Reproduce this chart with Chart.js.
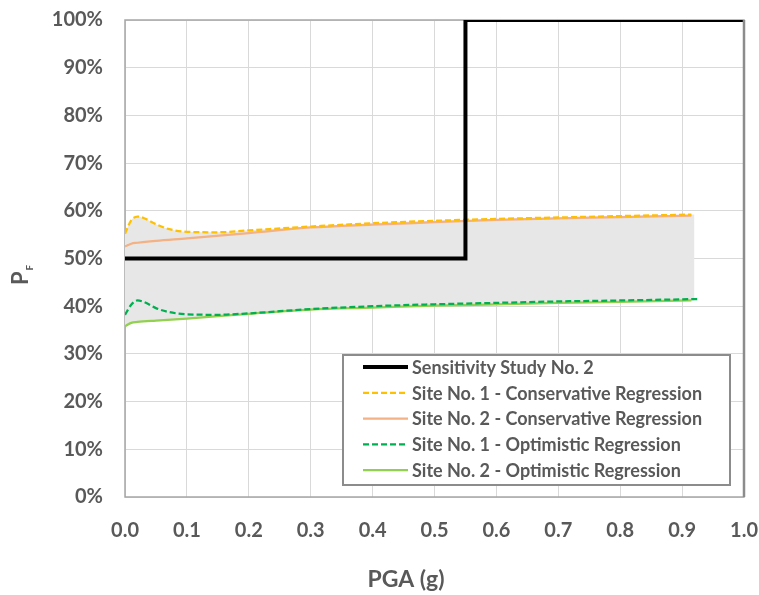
<!DOCTYPE html>
<html>
<head>
<meta charset="utf-8">
<script src="https://cdn.jsdelivr.net/npm/chart.js@4.4.1/dist/chart.umd.min.js"></script>
<style>
  html, body { margin: 0; padding: 0; background: #fff; }
  #wrap { width: 759px; height: 595px; }
</style>
</head>
<body>
<div id="wrap"><canvas id="chart" width="759" height="595"></canvas></div>
<script>
// --- data ---
const xTicks = [0, 0.1, 0.2, 0.3, 0.4, 0.5, 0.6, 0.7, 0.8, 0.9, 1.0];
const yTicks = [0, 0.1, 0.2, 0.3, 0.4, 0.5, 0.6, 0.7, 0.8, 0.9, 1.0];

const sensX = [0, 0.55, 0.55, 1.0];
const sensY = [0.5, 0.5, 1.0, 1.0];

const site1ConsX = [0, 0.01, 0.02, 0.03, 0.05, 0.07, 0.1, 0.15, 0.2, 0.3, 0.4, 0.5, 0.6, 0.7, 0.8, 0.915];
const site1ConsY = [0.552, 0.580, 0.588, 0.585, 0.572, 0.562, 0.556, 0.555, 0.559, 0.567, 0.574, 0.579, 0.583, 0.586, 0.589, 0.592];

const site2ConsX = [0, 0.01, 0.02, 0.05, 0.1, 0.2, 0.3, 0.4, 0.5, 0.6, 0.7, 0.8, 0.915];
const site2ConsY = [0.525, 0.531, 0.533, 0.537, 0.542, 0.553, 0.565, 0.571, 0.576, 0.581, 0.584, 0.587, 0.590];

const site1OptX = [0, 0.01, 0.02, 0.03, 0.05, 0.07, 0.1, 0.15, 0.2, 0.3, 0.4, 0.5, 0.6, 0.7, 0.8, 0.925];
const site1OptY = [0.382, 0.403, 0.412, 0.409, 0.396, 0.388, 0.383, 0.382, 0.385, 0.394, 0.400, 0.404, 0.407, 0.410, 0.412, 0.415];

const site2OptX = [0, 0.01, 0.02, 0.05, 0.1, 0.2, 0.3, 0.4, 0.5, 0.6, 0.7, 0.8, 0.915];
const site2OptY = [0.358, 0.365, 0.367, 0.370, 0.374, 0.384, 0.393, 0.397, 0.401, 0.404, 0.407, 0.409, 0.412];

// grey envelope between the curves
const bandX = [0, 0.01, 0.02, 0.03, 0.05, 0.07, 0.1, 0.15, 0.2, 0.3, 0.4, 0.5, 0.6, 0.7, 0.8, 0.92];
const bandUpper = [0.552, 0.580, 0.588, 0.585, 0.572, 0.562, 0.556, 0.555, 0.559, 0.567, 0.574, 0.579, 0.583, 0.586, 0.589, 0.592];
const bandLower = [0.358, 0.365, 0.367, 0.368, 0.370, 0.372, 0.374, 0.379, 0.384, 0.393, 0.397, 0.401, 0.404, 0.407, 0.409, 0.412];

const labels = [
    'Sensitivity Study No. 2',
    'Site No. 1 - Conservative Regression',
    'Site No. 2 - Conservative Regression',
    'Site No. 1 - Optimistic Regression',
    'Site No. 2 - Optimistic Regression'
];

const textColor = '#595959';
const fontFamily = 'Lato, "Open Sans", sans-serif';

function pts(xs, ys) {
    return xs.map((x, i) => ({ x: x, y: ys[i] }));
}

// legend drawn inside the plot area, lower right
const boxLegend = {
    id: 'boxLegend',
    afterDraw(chart) {
        const ctx = chart.ctx;
        const ca = chart.chartArea;
        const items = chart.data.datasets.filter(d => !d.isBand);
        const w = 387, rowH = 25.8;
        const h = 130;
        const left = ca.right - 14 - w;
        const top = ca.bottom - 12 - h;
        ctx.save();
        ctx.fillStyle = '#fff';
        ctx.fillRect(left, top, w, h);
        ctx.strokeStyle = '#8c8c8c';
        ctx.lineWidth = 2;
        ctx.strokeRect(left, top, w, h);
        ctx.font = 'bold 18px ' + fontFamily;
        ctx.textBaseline = 'middle';
        items.forEach((d, i) => {
            const y = top + 12 + i * rowH;
            ctx.strokeStyle = d.borderColor;
            ctx.lineWidth = d.borderWidth;
            ctx.setLineDash(d.borderDash || []);
            ctx.beginPath();
            ctx.moveTo(left + 20, y);
            ctx.lineTo(left + 65, y);
            ctx.stroke();
            ctx.setLineDash([]);
            ctx.fillStyle = textColor;
            ctx.fillText(d.label, left + 69, y + 1);
        });
        ctx.restore();
    }
};

// plot frame and both axis titles
const frameAndTitles = {
    id: 'frameAndTitles',
    beforeDatasetsDraw(chart) {
        const ctx = chart.ctx;
        const ca = chart.chartArea;
        ctx.save();
        ctx.strokeStyle = '#a6a6a6';
        ctx.lineWidth = 1.5;
        ctx.strokeRect(ca.left, ca.top, ca.right - ca.left, ca.bottom - ca.top);
        ctx.restore();
    },
    afterDraw(chart) {
        const ctx = chart.ctx;
        const ca = chart.chartArea;
        ctx.save();
        ctx.strokeStyle = '#8c8c8c';
        ctx.lineWidth = 2.5;
        ctx.beginPath();
        ctx.moveTo(ca.right, ca.top);
        ctx.lineTo(ca.right, ca.bottom);
        ctx.stroke();

        ctx.fillStyle = textColor;
        ctx.textBaseline = 'alphabetic';
        ctx.textAlign = 'center';
        ctx.font = 'bold 23px ' + fontFamily;
        ctx.fillText('PGA (g)', 406, 587);

        ctx.textAlign = 'left';
        ctx.translate(28, 285);
        ctx.rotate(-Math.PI / 2);
        ctx.font = 'bold 22px ' + fontFamily;
        ctx.fillText('P', 0, 0);
        const pw = ctx.measureText('P').width;
        ctx.font = 'bold 10px ' + fontFamily;
        ctx.fillText('F', pw + 1, 5);
        ctx.restore();
    }
};

const ctx = document.getElementById('chart').getContext('2d');

new Chart(ctx, {
    type: 'line',
    data: {
        datasets: [
            {
                label: labels[0],
                data: pts(sensX, sensY),
                borderColor: '#000000',
                borderWidth: 4,
                pointRadius: 0,
                fill: false,
                order: 1
            },
            {
                label: labels[1],
                data: pts(site1ConsX, site1ConsY),
                borderColor: '#FFC000',
                borderWidth: 2.25,
                borderDash: [6, 3],
                pointRadius: 0,
                cubicInterpolationMode: 'monotone',
                fill: false,
                order: 3
            },
            {
                label: labels[2],
                data: pts(site2ConsX, site2ConsY),
                borderColor: '#F4B183',
                borderWidth: 2.25,
                pointRadius: 0,
                cubicInterpolationMode: 'monotone',
                fill: false,
                order: 4
            },
            {
                label: labels[3],
                data: pts(site1OptX, site1OptY),
                borderColor: '#00B050',
                borderWidth: 2.25,
                borderDash: [6, 3],
                pointRadius: 0,
                cubicInterpolationMode: 'monotone',
                fill: false,
                order: 2
            },
            {
                label: labels[4],
                data: pts(site2OptX, site2OptY),
                borderColor: '#92D050',
                borderWidth: 2.25,
                pointRadius: 0,
                cubicInterpolationMode: 'monotone',
                fill: false,
                order: 5
            },
            {
                label: 'band upper',
                isBand: true,
                data: pts(bandX, bandUpper),
                borderColor: 'rgba(0,0,0,0)',
                borderWidth: 0,
                backgroundColor: '#E7E7E7',
                pointRadius: 0,
                cubicInterpolationMode: 'monotone',
                fill: '+1',
                order: 20
            },
            {
                label: 'band lower',
                isBand: true,
                data: pts(bandX, bandLower),
                borderColor: 'rgba(0,0,0,0)',
                borderWidth: 0,
                pointRadius: 0,
                cubicInterpolationMode: 'monotone',
                fill: false,
                order: 21
            }
        ]
    },
    options: {
        responsive: false,
        animation: false,
        layout: { padding: { top: 20, right: 15, left: 0, bottom: 0 } },
        plugins: {
            legend: { display: false },
            tooltip: { enabled: false }
        },
        scales: {
            x: {
                type: 'linear',
                min: 0,
                max: 1,
                afterBuildTicks: (scale) => { scale.ticks = xTicks.map(v => ({ value: v })); },
                afterFit: (scale) => {
                    scale.height = 98;
                    scale.paddingLeft = 0;
                    scale.paddingRight = 0;
                },
                grid: { color: '#d9d9d9', lineWidth: 1, drawTicks: false },
                border: { display: false },
                ticks: {
                    color: textColor,
                    padding: 22,
                    font: { family: fontFamily, size: 20, weight: 'bold' },
                    callback: (v) => Number(v).toFixed(1)
                }
            },
            y: {
                min: 0,
                max: 1,
                afterBuildTicks: (scale) => { scale.ticks = yTicks.map(v => ({ value: v })); },
                afterFit: (scale) => {
                    scale.width = 125;
                    scale.paddingTop = 0;
                    scale.paddingBottom = 0;
                },
                grid: { color: '#d9d9d9', lineWidth: 1, drawTicks: false },
                border: { display: false },
                ticks: {
                    color: textColor,
                    padding: 22,
                    font: { family: fontFamily, size: 20, weight: 'bold' },
                    callback: (v) => Math.round(v * 100) + '%'
                }
            }
        }
    },
    plugins: [frameAndTitles, boxLegend]
});
</script>
</body>
</html>
